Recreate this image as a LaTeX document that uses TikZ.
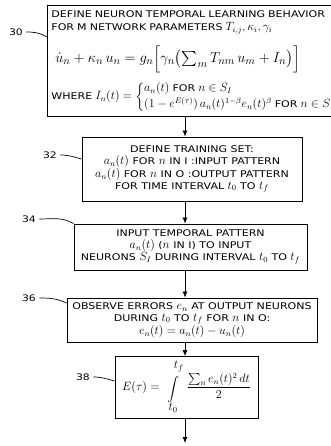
\documentclass[tikz,border=0pt]{standalone}
\usepackage{amsmath, amssymb}
\usepackage{fontspec}
\setsansfont{DejaVu Sans}[FakeStretch=1.2]
\usetikzlibrary{arrows.meta, positioning}
\DeclareMathSizes{9.2}{11.8}{8.5}{7}

\tikzset{
  stepbox/.style={draw, line width=0.9pt, inner sep=4pt, align=center,
    font=\fontsize{9.2}{11.8}\selectfont\sffamily},
  reflabel/.style={font=\sffamily\fontsize{9}{10}\selectfont},
  lead/.style={line width=0.7pt},
  flow/.style={line width=0.8pt, -{Latex[length=6pt,width=5pt]}},
}

\begin{document}
\begin{tikzpicture}[x=1pt, y=-1pt]
	\useasboundingbox (0,0) rectangle (330,446);
	% Boxes:
	\node[stepbox, align=left, text width=288pt, minimum height=111pt, anchor=north west] (def) at (47,5)
	  {DEFINE NEURON TEMPORAL LEARNING BEHAVIOR\\[1pt]
	   FOR M NETWORK PARAMETERS $T_{i,j},\kappa_i,\gamma_i$\\[11pt]
	   \hspace*{4pt}{\fontsize{15}{16}\selectfont$\dot{u}_n+\kappa_n\,u_n=g_n\Bigl[\gamma_n\bigl(\textstyle\sum_m T_{nm}\,u_m+I_n\bigr)\Bigr]$}\\[9pt]
	   WHERE $I_n(t)=\left\{\begin{array}{@{}l@{}}
	     a_n(t)\ \text{FOR } n\in S_I\\[2pt]
	     (1-e^{E(\tau)})\,a_n(t)^{1-\beta}e_n(t)^{\beta}\ \text{FOR } n\in S
	   \end{array}\right.$};
	\node[stepbox, minimum width=220pt, minimum height=64pt] (train) at (192,169)
	  {DEFINE TRAINING SET:\\
	   $a_n(t)$ FOR $n$ IN I :INPUT PATTERN\\
	   $a_n(t)$ FOR $n$ IN O :OUTPUT PATTERN\\
	   FOR TIME INTERVAL $t_0$ TO $t_f$};
	\node[stepbox, minimum width=233pt, minimum height=46pt] (feed) at (190.5,247)
	  {INPUT TEMPORAL PATTERN\\
	   $a_n(t)$ ($n$ IN I) TO INPUT\\
	   NEURONS $S_I$ DURING INTERVAL $t_0$ TO $t_f$};
	\node[stepbox, minimum width=250pt, minimum height=44pt] (observe) at (192,320)
	  {OBSERVE ERRORS $e_n$ AT OUTPUT NEURONS\\
	   DURING $t_0$ TO $t_f$ FOR $n$ IN O:\\
	   $e_n(t)=a_n(t)-u_n(t)$};
	\node[stepbox, minimum width=143pt, minimum height=51pt] (cost) at (186.5,387.5)
	  {$E(\tau)=\begin{array}{@{}c@{}}\hspace*{11pt}t_f\\[4pt]\displaystyle\int\\[4pt] t_0\end{array}
	   \;\dfrac{\sum_n e_n(t)^2\,dt}{2}$};
	% Reference numerals:
	\node[reflabel] (l30) at (16,32) {30};
	\node[reflabel] (l32) at (50,155) {32};
	\node[reflabel] (l34) at (29,219) {34};
	\node[reflabel] (l36) at (29,298) {36};
	\node[reflabel] (l38) at (83,377) {38};
	\draw[lead] (l30.east) to[out=0, in=150] ([yshift=-5pt]def.west |- l30);
	\draw[lead] (l32.east) to[out=0, in=165] ([yshift=-4pt]train.west |- l32);
	\draw[lead] (l34.east) to[out=0, in=150] (feed.north west);
	\draw[lead] (l36.east) to[out=0, in=155] ([yshift=-5pt]observe.west |- l36);
	\draw[lead] (l38.east) to[out=0, in=165] ([yshift=-4pt]cost.west |- l38);
	% Flow arrows:
	\coordinate (spine) at (185,0);
	\coordinate (next) at (185,443);
	\draw[flow] (def.south -| spine) -- (train.north -| spine);
	\draw[flow] (train.south -| spine) -- (feed.north -| spine);
	\draw[flow] (feed.south -| spine) -- (observe.north -| spine);
	\draw[flow] (observe.south -| spine) -- (cost.north -| spine);
	\draw[flow] (cost.south -| spine) -- (next);
\end{tikzpicture}
\end{document}
